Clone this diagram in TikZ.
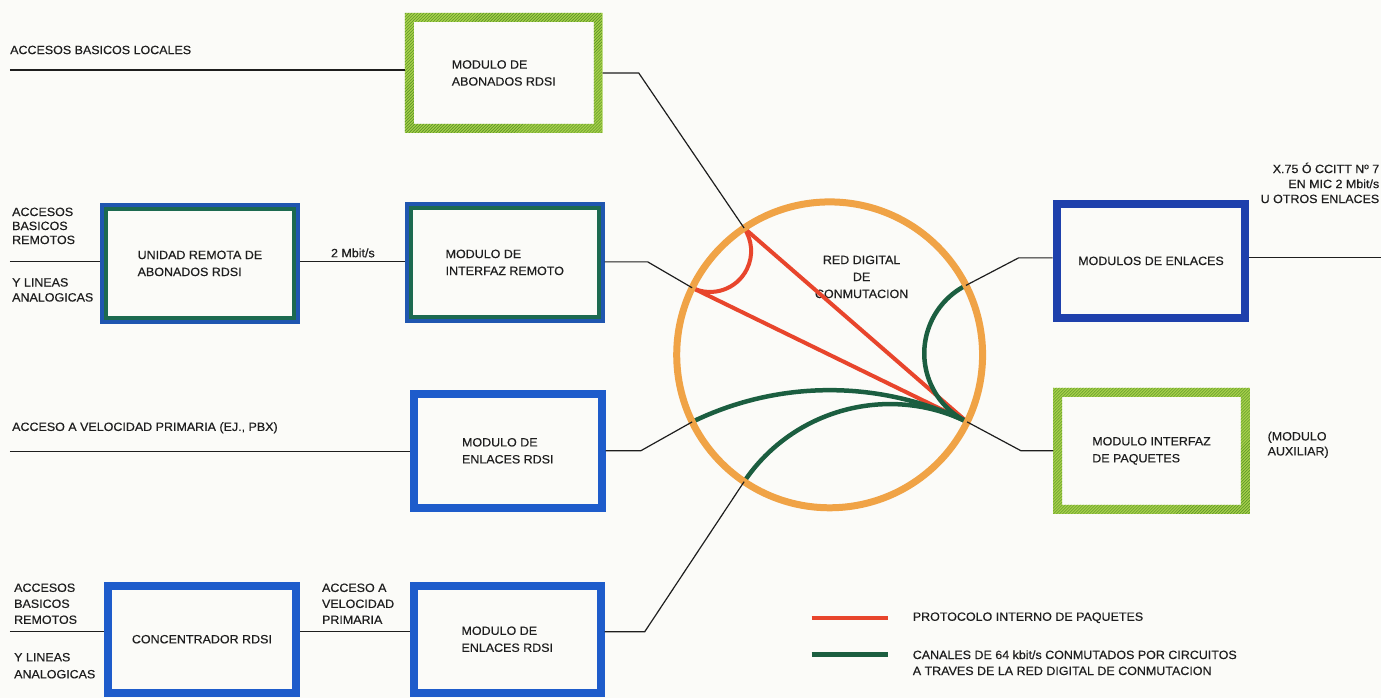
\documentclass[tikz,border=0pt]{standalone}
\usepackage{fontspec}
\setmainfont{Liberation Sans}[FakeStretch=1.04, FakeBold=0.4]
\usetikzlibrary{patterns,calc}

\definecolor{paper}{HTML}{FBFBF8}
\definecolor{ink}{HTML}{1E1E1E}
\definecolor{boxblue}{HTML}{1E5CCB}
\definecolor{deepblue}{HTML}{1E40AC}
\definecolor{twoblue}{HTML}{1F56B0}
\definecolor{framegreen}{HTML}{1C6A50}
\definecolor{lime}{HTML}{A6D04A}
\definecolor{limedark}{HTML}{4E8A22}
\definecolor{ringorange}{HTML}{F0A346}
\definecolor{pktred}{HTML}{E8452C}
\definecolor{chgreen}{HTML}{1B5E40}

% radius of the switching network ring
\newcommand\netr{153}

% arc inside the ring, meeting it at right angles, from angle #3 to #4 (#3<#4)
\newcommand\ringarc[4]{%
  \pgfmathsetmacro\gm{(#3+#4)/2}%
  \pgfmathsetmacro\gh{(#4-#3)/2}%
  \pgfmathsetmacro\gr{\netr*tan(\gh)}%
  \pgfmathsetmacro\gs{\gm+270-\gh}%
  \pgfmathsetmacro\ge{\gm+90+\gh}%
  \draw[#1] (#2) arc[start angle=\gs, end angle=\ge, radius=\gr];}

% hatched green frame around a node, band width 9pt
\newcommand\hatchframe[1]{%
  \fill[lime, even odd rule] (#1.north west) rectangle (#1.south east)
    ([shift={(9pt,-9pt)}]#1.north west) rectangle ([shift={(-9pt,9pt)}]#1.south east);
  \fill[pattern=north east lines, pattern color=limedark, even odd rule]
    (#1.north west) rectangle (#1.south east)
    ([shift={(9pt,-9pt)}]#1.north west) rectangle ([shift={(-9pt,9pt)}]#1.south east);}

% green inner band of a two-colour frame
\newcommand\innerframe[1]{%
  \draw[framegreen, line width=4] ([shift={(6pt,-6pt)}]#1.north west)
    rectangle ([shift={(-6pt,6pt)}]#1.south east);}

\begin{document}
\begin{tikzpicture}[x=1pt, y=-1pt,
  every node/.style={text=ink},
  txt/.style={font=\fontsize{12}{15}\selectfont, inner sep=0, align=left, anchor=west},
  boxtxt/.style={font=\fontsize{12}{17}\selectfont, align=left, inner sep=0},
  bluebox/.style={boxtxt, draw=boxblue, line width=8},
  darkbox/.style={boxtxt, draw=deepblue, line width=8},
  twobox/.style={boxtxt, draw=twoblue, line width=8},
  hatchbox/.style={boxtxt, outer sep=0},
  wire/.style={draw=ink, line width=1.2},
  pkt/.style={draw=pktred, line width=4},
  chan/.style={draw=chgreen, line width=4.5},
  ring/.style={draw=ringorange, line width=7}]

\fill[paper] (0,0) rectangle (1382,698);

% ---------- boxes ----------
\node[hatchbox, minimum width=198, minimum height=120] (abon) at (504,73)
  {MODULO DE\\ABONADOS RDSI};
\node[twobox, minimum width=192, minimum height=113] (unid) at (200,263.5)
  {UNIDAD REMOTA DE\\ABONADOS RDSI};
\node[twobox, minimum width=192, minimum height=113] (intf) at (505,262.5)
  {MODULO DE\\INTERFAZ REMOTO};
\node[bluebox, minimum width=188, minimum height=114] (enl1) at (508,451)
  {MODULO DE\\ENLACES RDSI};
\node[bluebox, minimum width=188, minimum height=107] (conc) at (202,639.5)
  {CONCENTRADOR RDSI};
\node[bluebox, minimum width=187, minimum height=107] (enl2) at (507.5,639.5)
  {MODULO DE\\ENLACES RDSI};
\node[darkbox, minimum width=189, minimum height=114] (menl) at (1151.5,261)
  {MODULOS DE ENLACES};
\node[hatchbox, minimum width=197, minimum height=126] (paq) at (1152,451)
  {MODULO INTERFAZ\\DE PAQUETES};

\hatchframe{abon}
\hatchframe{paq}
\innerframe{unid}
\innerframe{intf}

% ---------- switching network ----------
\node[circle, minimum size=306, inner sep=0] (net) at (830,355) {};
\node[boxtxt, align=center] (netlbl) at (862,277) {RED DIGITAL\\DE\\CONMUTACION};

\coordinate (pA) at ($(net)+(236:\netr)$);
\coordinate (pB) at ($(net)+(206:\netr)$);
\coordinate (pC) at ($(net)+(-27:\netr)$);
\coordinate (pP) at ($(net)+(26:\netr)$);
\coordinate (pD) at ($(net)+(154:\netr)$);
\coordinate (pE) at ($(net)+(124:\netr)$);

% packet protocol paths
\draw[pkt] (pA) -- (pP);
\draw[pkt] (pB) -- (pP);
\ringarc{pkt}{pB}{206}{236}

% 64 kbit/s circuit-switched channels
\ringarc{chan}{pC}{-27}{26}
\ringarc{chan}{pP}{26}{154}
\ringarc{chan}{pP}{26}{124}

\draw[ring] (net.center) circle[radius=\netr];

% ---------- access lines and links ----------
\coordinate (inLoc) at (10,70);
\coordinate (inRem1) at (10,262);
\coordinate (inPri) at (10,452);
\coordinate (inRem2) at (10,632);
\coordinate (outLnk) at (1382,258);

\draw[wire] (inLoc) -- (inLoc -| abon.west);
\draw[wire] (abon.east) -- ++(36,0) -- (pA);
\draw[wire] (inRem1) -- (inRem1 -| unid.west);
\draw[wire] (inRem1 -| unid.east) -- (inRem1 -| intf.west);
\draw[wire] (inRem1 -| intf.east) -- ++(43,0) -- (pB);
\draw[wire] (inPri) -- (inPri -| enl1.west);
\draw[wire] (enl1.east) -- ++(35,0) -- (pD);
\draw[wire] (inRem2) -- (inRem2 -| conc.west);
\draw[wire] (inRem2 -| conc.east) -- (inRem2 -| enl2.west);
\draw[wire] (inRem2 -| enl2.east) -- ++(40,0) -- (pE);
\draw[wire] (outLnk -| menl.west) -- ++(-34,0) -- (pC);
\draw[wire] (outLnk -| menl.east) -- (outLnk);
\draw[wire] (paq.west) -- ++(-32,0) -- (pP);

% ---------- labels ----------
\node[txt] (lLoc) at (10,50) {ACCESOS BASICOS LOCALES};
\node[txt, font=\fontsize{12}{14}\selectfont] (lRem1a) at (12,226) {ACCESOS\\BASICOS\\REMOTOS};
\node[txt] (lRem1b) at (12,290) {Y LINEAS\\ANALOGICAS};
\node[txt] (lRate) at (331,253) {2 Mbit/s};
\node[txt] (lPri) at (12,428) {ACCESO A VELOCIDAD PRIMARIA (EJ., PBX)};
\node[txt, font=\fontsize{12}{16}\selectfont] (lRem2a) at (14,604) {ACCESOS\\BASICOS\\REMOTOS};
\node[txt, font=\fontsize{12}{17}\selectfont] (lRem2b) at (14,666) {Y LINEAS\\ANALOGICAS};
\node[txt, font=\fontsize{12}{16}\selectfont] (lPri2) at (322,604) {ACCESO A\\VELOCIDAD\\PRIMARIA};
\node[txt, anchor=east, align=right] (lOut) at (1380,183)
  {X.75 Ó CCITT Nº 7\\EN MIC 2 Mbit/s\\U OTROS ENLACES};
\node[txt] (lAux) at (1268,445) {(MODULO\\AUXILIAR)};

% ---------- key ----------
\coordinate (k1a) at (812,618); \coordinate (k1b) at (888,618);
\coordinate (k2a) at (812,655); \coordinate (k2b) at (888,655);
\draw[pkt] (k1a) -- (k1b);
\draw[chan] (k2a) -- (k2b);
\node[txt] (key1) at (913,618) {PROTOCOLO INTERNO DE PAQUETES};
\node[txt, font=\fontsize{12}{16}\selectfont] (key2) at (913,663)
  {CANALES DE 64 kbit/s CONMUTADOS POR CIRCUITOS\\A TRAVES DE LA RED DIGITAL DE CONMUTACION};
\end{tikzpicture}
\end{document}
